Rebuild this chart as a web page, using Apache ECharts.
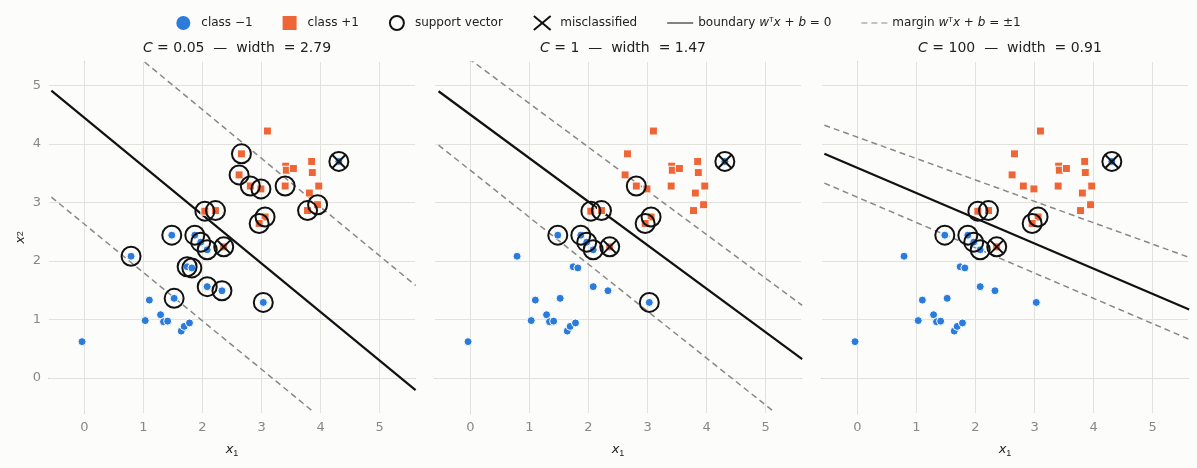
<!DOCTYPE html>
<html><head><meta charset="utf-8">
<script src="https://cdn.jsdelivr.net/npm/echarts@6/dist/echarts.min.js"></script>
<style>html,body{margin:0;background:#fcfcfa}#chart{width:1197px;height:468px}</style>
</head><body><div id="chart"></div>
<script>
var classNeg = [[-0.04,0.62],[0.79,2.08],[1.10,1.33],[1.03,0.98],[1.29,1.08],[1.34,0.96],[1.41,0.97],[1.64,0.80],[1.69,0.88],[1.78,0.94],
  [1.52,1.36],[1.48,2.44],[1.74,1.90],[1.82,1.88],[1.87,2.44],[1.97,2.32],[2.08,2.19],[2.08,1.56],[2.33,1.49],[3.03,1.29],[4.31,3.70]];
var classPos = [[3.10,4.22],[2.66,3.83],[2.62,3.47],[2.81,3.28],[2.99,3.23],[3.40,3.28],[3.41,3.62],[3.42,3.55],[3.54,3.58],[3.85,3.70],
  [3.86,3.51],[3.97,3.28],[3.81,3.16],[3.78,2.86],[3.95,2.96],[2.04,2.85],[2.22,2.86],[3.06,2.75],[2.96,2.64],[2.36,2.24]];
var misclassified = [[4.31,3.70],[2.36,2.24]];
var supportVectors = [
  [[0.79,2.08],[1.52,1.36],[1.48,2.44],[1.74,1.90],[1.82,1.88],[1.87,2.44],[1.97,2.32],[2.08,2.19],[2.08,1.56],[2.33,1.49],[3.03,1.29],
   [2.36,2.24],[2.04,2.85],[2.22,2.86],[2.66,3.83],[2.62,3.47],[2.81,3.28],[2.99,3.23],[3.40,3.28],[3.06,2.75],[2.96,2.64],[3.78,2.86],[3.95,2.96],[4.31,3.70]],
  [[1.48,2.44],[1.87,2.44],[1.97,2.32],[2.08,2.19],[2.36,2.24],[2.04,2.85],[2.22,2.86],[2.81,3.28],[3.06,2.75],[2.96,2.64],[3.03,1.29],[4.31,3.70]],
  [[1.48,2.44],[1.87,2.44],[1.97,2.32],[2.08,2.19],[2.36,2.24],[2.04,2.85],[2.22,2.86],[2.96,2.64],[3.06,2.75],[4.31,3.70]]
];
var cValues = ['0.05', '1', '100'];
var widths = ['2.79', '1.47', '0.91'];
// line endpoints [x0,y0,x1,y1]
var boundaries = [[-0.56,4.91,5.61,-0.21],[-0.54,4.90,5.62,0.32],[-0.56,3.83,5.62,1.17]];
var marginsUp = [[1.02,5.40,5.61,1.58],[-0.03,5.46,5.62,1.24],[-0.56,4.32,5.62,2.06]];
var marginsDown = [[-0.56,3.09,3.88,-0.58],[-0.54,3.98,5.12,-0.56],[-0.56,3.33,5.62,0.66]];
var tickVals = [0,1,2,3,4,5];

var blue = '#2a7bdc', orange = '#ee6536';
var xPath = 'path://M0,0L10,10M10,0L0,10';
var lefts = [49, 435, 822];
var grids = [], xAxes = [], yAxes = [], series = [], titles = [];

function seg(a) { return [[a[0], a[1]], [a[2], a[3]]]; }

for (var i = 0; i < 3; i++) {
  grids.push({ left: lefts[i], width: 366, top: 62, height: 351 });
  titles.push({
    text: '{i|C} = ' + cValues[i] + '  —  width  = ' + widths[i],
    left: lefts[i] + 183, top: 36, textAlign: 'center',
    textStyle: { fontFamily: 'DejaVu Sans', fontSize: 14, fontWeight: 'normal', color: '#222',
      rich: { i: { fontStyle: 'italic', fontFamily: 'DejaVu Sans', fontSize: 14, color: '#222' } } }
  });
  xAxes.push({
    gridIndex: i, type: 'value', min: -0.6, max: 5.6,
    name: '{i|x}{s|1}', nameLocation: 'middle', nameGap: 28,
    nameTextStyle: { rich: { i: { fontStyle: 'italic', fontSize: 13, color: '#222', fontFamily: 'DejaVu Sans' },
      s: { fontSize: 9, color: '#222', verticalAlign: 'bottom', padding: [8, 0, 0, 0] } } },
    axisLine: { lineStyle: { color: '#888' } },
    axisTick: { customValues: tickVals, lineStyle: { color: '#888' } },
    axisLabel: { customValues: tickVals, color: '#888', fontSize: 13, fontFamily: 'DejaVu Sans' },
    splitLine: { show: false }
  });
  yAxes.push({
    gridIndex: i, type: 'value', min: -0.6, max: 5.4,
    name: i === 0 ? '{i|x}{s|2}' : '', nameLocation: 'middle', nameGap: 22, nameRotate: 90,
    nameTextStyle: { rich: { i: { fontStyle: 'italic', fontSize: 13, color: '#222', fontFamily: 'DejaVu Sans' },
      s: { fontSize: 9, color: '#222' } } },
    axisLine: { show: true, lineStyle: { color: '#888' } },
    axisTick: { show: i === 0, customValues: tickVals, lineStyle: { color: '#888' } },
    axisLabel: { show: i === 0, customValues: tickVals, color: '#888', fontSize: 13, fontFamily: 'DejaVu Sans' },
    splitLine: { show: false }
  });
  var gridLines = [];
  tickVals.forEach(function (v) { gridLines.push({ xAxis: v }); gridLines.push({ yAxis: v }); });
  series.push({
    name: 'class −1', type: 'scatter', xAxisIndex: i, yAxisIndex: i, data: classNeg, symbolSize: 8,
    itemStyle: { color: blue, borderColor: '#fff', borderWidth: 1, opacity: 1 }, z: 3,
    markLine: { silent: true, symbol: 'none', label: { show: false },
      lineStyle: { color: '#e2e2dc', type: 'solid', width: 1 }, data: gridLines, z: 1 }
  });
  series.push({
    name: 'class +1', type: 'scatter', xAxisIndex: i, yAxisIndex: i, data: classPos, symbol: 'rect', symbolSize: 8,
    itemStyle: { color: orange, borderColor: '#fff', borderWidth: 1, opacity: 1 }, z: 3
  });
  series.push({
    name: 'support vector', type: 'scatter', xAxisIndex: i, yAxisIndex: i, data: supportVectors[i], symbol: 'circle', symbolSize: 19,
    itemStyle: { color: 'rgba(0,0,0,0)', borderColor: '#111', borderWidth: 2, opacity: 1 }, z: 4
  });
  series.push({
    name: 'misclassified', type: 'scatter', xAxisIndex: i, yAxisIndex: i, data: misclassified, symbol: xPath, symbolSize: 13,
    itemStyle: { color: 'rgba(0,0,0,0)', borderColor: '#111', borderWidth: 2, opacity: 1 }, z: 5
  });
  series.push({
    name: 'boundary', type: 'line', xAxisIndex: i, yAxisIndex: i, data: seg(boundaries[i]), symbol: 'none', clip: true,
    lineStyle: { color: '#111', width: 2.2 }, itemStyle: { color: '#111' }, z: 2
  });
  [marginsUp[i], marginsDown[i]].forEach(function (m) {
    series.push({
      name: 'margin', type: 'line', xAxisIndex: i, yAxisIndex: i, data: seg(m), symbol: 'none', clip: true,
      lineStyle: { color: '#888', width: 1.5, type: [6, 4] }, itemStyle: { color: '#888' }, z: 2
    });
  });
}

var legendRich = { i: { fontStyle: 'italic', fontSize: 12, color: '#222', fontFamily: 'DejaVu Sans' },
  t: { fontSize: 12, color: '#222', fontFamily: 'DejaVu Sans' } };
var chart = echarts.init(document.getElementById('chart'));
chart.setOption({
  backgroundColor: '#fcfcfa',
  animation: false,
  title: titles,
  legend: {
    top: 10, left: 'center', itemGap: 30, itemWidth: 26, itemHeight: 14,
    textStyle: { fontSize: 12, color: '#222', fontFamily: 'DejaVu Sans', rich: legendRich },
    data: [
      { name: 'class −1', icon: 'path://M7,3A2,2 0 1 1 7,7A2,2 0 1 1 7,3Z', itemStyle: { color: blue, borderWidth: 0 } },
      { name: 'class +1', icon: 'path://M5,2H9V6H5Z', itemStyle: { color: orange, borderWidth: 0 } },
      { name: 'support vector', icon: 'path://M4,4A5,5 0 1 1 16,4A5,5 0 1 1 4,4Z', itemStyle: { color: 'rgba(0,0,0,0)', borderColor: '#111', borderWidth: 2 } },
      { name: 'misclassified', icon: 'path://M6,0L18,10M18,0L6,10', itemStyle: { color: 'rgba(0,0,0,0)', borderColor: '#111', borderWidth: 2 } },
      { name: 'boundary', icon: 'path://M0,4.4H30V5.6H0Z', itemStyle: { color: '#111', borderWidth: 0 } },
      { name: 'margin', icon: 'path://M0,4.6H6V5.4H0ZM10,4.6H16V5.4H10ZM20,4.6H26V5.4H20Z', itemStyle: { color: '#888', borderWidth: 0 } }
    ],
    formatter: function (n) {
      if (n === 'boundary') return '{t|boundary }{i|w}{t|ᵀ}{i|x}{t| + }{i|b}{t| = 0}';
      if (n === 'margin') return '{t|margin }{i|w}{t|ᵀ}{i|x}{t| + }{i|b}{t| = ±1}';
      return n;
    }
  },
  grid: grids, xAxis: xAxes, yAxis: yAxes, series: series
});
</script></body></html>
